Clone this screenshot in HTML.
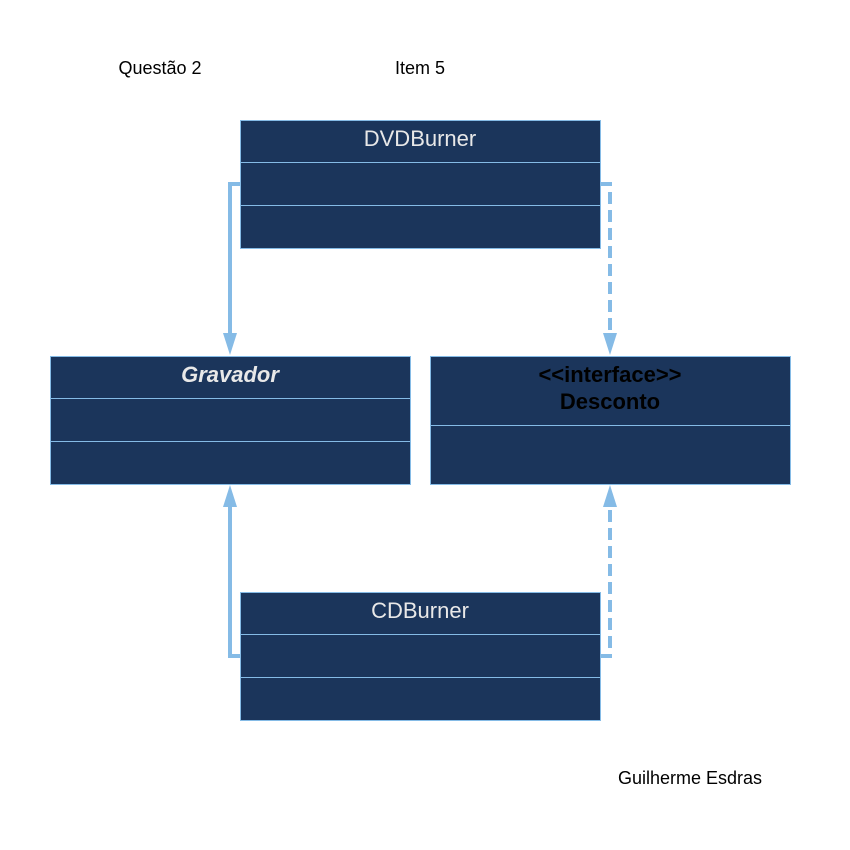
<!DOCTYPE html>
<html><head><meta charset="utf-8"><style>
html,body{margin:0;padding:0;background:#fff;}
svg{display:block;}
text{font-family:"Liberation Sans",sans-serif;}
</style></head><body>
<svg width="850" height="850" viewBox="0 0 850 850" xmlns="http://www.w3.org/2000/svg">
<rect width="850" height="850" fill="#fff"/>
<text x="160" y="74" font-size="18" text-anchor="middle" fill="#000">Questão 2</text>
<text x="420" y="74" font-size="18" text-anchor="middle" fill="#000">Item 5</text>
<text x="690" y="784" font-size="18" text-anchor="middle" fill="#000">Guilherme Esdras</text>

<g stroke="#85BBE6" stroke-width="1" fill="#1B355B">
<rect x="240.5" y="120.5" width="360" height="128"/>
<line x1="240" y1="162.5" x2="600" y2="162.5"/>
<line x1="240" y1="205.5" x2="600" y2="205.5"/>
<rect x="50.5" y="356.5" width="360" height="128"/>
<line x1="50" y1="398.5" x2="410" y2="398.5"/>
<line x1="50" y1="441.5" x2="410" y2="441.5"/>
<rect x="430.5" y="356.5" width="360" height="128"/>
<line x1="430" y1="425.5" x2="790" y2="425.5"/>
<rect x="240.5" y="592.5" width="360" height="128"/>
<line x1="240" y1="634.5" x2="600" y2="634.5"/>
<line x1="240" y1="677.5" x2="600" y2="677.5"/>
</g>

<text x="420" y="146" font-size="22" text-anchor="middle" fill="#E8E8E8">DVDBurner</text>
<text x="230" y="382" font-size="22" font-weight="bold" font-style="italic" text-anchor="middle" fill="#E8E8E8">Gravador</text>
<text x="610" y="382" font-size="22" font-weight="bold" text-anchor="middle" fill="#000">&lt;&lt;interface&gt;&gt;</text>
<text x="610" y="409" font-size="22" font-weight="bold" text-anchor="middle" fill="#000">Desconto</text>
<text x="420" y="618" font-size="22" text-anchor="middle" fill="#E8E8E8">CDBurner</text>

<g stroke="#85BBE6" stroke-width="4" fill="none">
<polyline points="240,184 230,184 230,334"/>
<polyline points="600,184 610,184 610,334" stroke-dasharray="12,6"/>
<polyline points="240,656 230,656 230,506"/>
<polyline points="600,656 610,656 610,506" stroke-dasharray="12,6"/>
</g>
<g fill="#85BBE6">
<polygon points="223,333 237,333 230,355"/>
<polygon points="603,333 617,333 610,355"/>
<polygon points="223,507 237,507 230,485"/>
<polygon points="603,507 617,507 610,485"/>
</g>
</svg>
</body></html>
